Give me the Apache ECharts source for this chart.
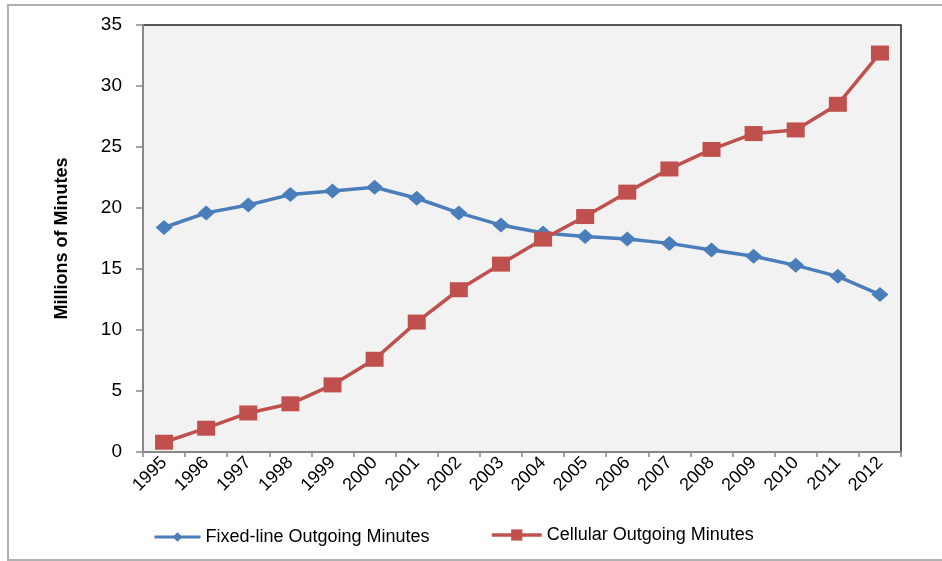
<!DOCTYPE html>
<html>
<head>
<meta charset="utf-8">
<script src="https://cdn.jsdelivr.net/npm/echarts@6/dist/echarts.min.js"></script>
<style>
  html, body { margin: 0; padding: 0; background: #fff; }
  #chart { width: 942px; height: 561px; }
</style>
</head>
<body>
<div id="chart"></div>
<script>
var years = ['1995', '1996', '1997', '1998', '1999', '2000', '2001', '2002', '2003',
  '2004', '2005', '2006', '2007', '2008', '2009', '2010', '2011', '2012'];
var fixedLine = [18.4, 19.6, 20.25, 21.1, 21.4, 21.7, 20.8, 19.6, 18.6,
  17.95, 17.66, 17.45, 17.1, 16.55, 16.05, 15.3, 14.4, 12.9];
var cellular = [0.8, 1.95, 3.2, 3.95, 5.5, 7.6, 10.65, 13.3, 15.4,
  17.45, 19.3, 21.3, 23.2, 24.8, 26.1, 26.4, 28.5, 32.7];
var yTicks = { min: 0, max: 35, interval: 5 };

var font = 'Liberation Sans, Arial, sans-serif';

var chart = echarts.init(document.getElementById('chart'));

var option = {
  backgroundColor: '#fff',
  animation: false,
  graphic: [{
    type: 'rect',
    shape: { x: 8, y: 5, width: 960, height: 555 },
    style: { fill: null, stroke: '#b0b0b0', lineWidth: 2 },
    silent: true
  }],
  grid: {
    left: 143, right: 41, top: 25, bottom: 109,
    show: true,
    backgroundColor: '#F2F2F2',
    borderColor: '#222',
    borderWidth: 1.5
  },
  legend: [{
    data: ['Fixed-line Outgoing Minutes'],
    left: 148, top: 523,
    itemWidth: 46, itemHeight: 12,
    lineStyle: { width: 3 },
    textStyle: { fontFamily: font, fontSize: 18, color: '#000' }
  }, {
    data: ['Cellular Outgoing Minutes'],
    left: 485, top: 521,
    itemWidth: 50, itemHeight: 14,
    lineStyle: { width: 3.5 },
    textStyle: { fontFamily: font, fontSize: 18, color: '#000' }
  }],
  xAxis: {
    type: 'category',
    data: years,
    boundaryGap: true,
    axisLine: { lineStyle: { color: '#888', width: 2 } },
    axisTick: { show: true, length: 5, lineStyle: { color: '#888', width: 1.5 } },
    axisLabel: {
      rotate: 45,
      interval: 0,
      margin: 8,
      fontFamily: font,
      fontSize: 18,
      color: '#000'
    }
  },
  yAxis: {
    type: 'value',
    min: yTicks.min, max: yTicks.max, interval: yTicks.interval,
    name: 'Millions of Minutes',
    nameLocation: 'middle',
    nameGap: 72,
    nameTextStyle: { fontFamily: font, fontSize: 18, fontWeight: 'bold', color: '#000' },
    axisLine: { show: true, lineStyle: { color: '#888', width: 2 } },
    axisTick: { show: true, inside: false, length: 7, lineStyle: { color: '#888', width: 1.5 } },
    splitLine: { show: false },
    axisLabel: { fontFamily: font, fontSize: 19, color: '#000', margin: 21 }
  },
  series: [{
    name: 'Fixed-line Outgoing Minutes',
    type: 'line',
    data: fixedLine,
    symbol: 'diamond',
    symbolSize: [17, 15],
    lineStyle: { color: '#4A7EBB', width: 3.5 },
    itemStyle: { color: '#4A7EBB' }
  }, {
    name: 'Cellular Outgoing Minutes',
    type: 'line',
    data: cellular,
    symbol: 'rect',
    symbolSize: [18, 15],
    lineStyle: { color: '#C0504D', width: 3.5 },
    itemStyle: { color: '#C0504D' }
  }]
};

chart.setOption(option);
</script>
</body>
</html>
